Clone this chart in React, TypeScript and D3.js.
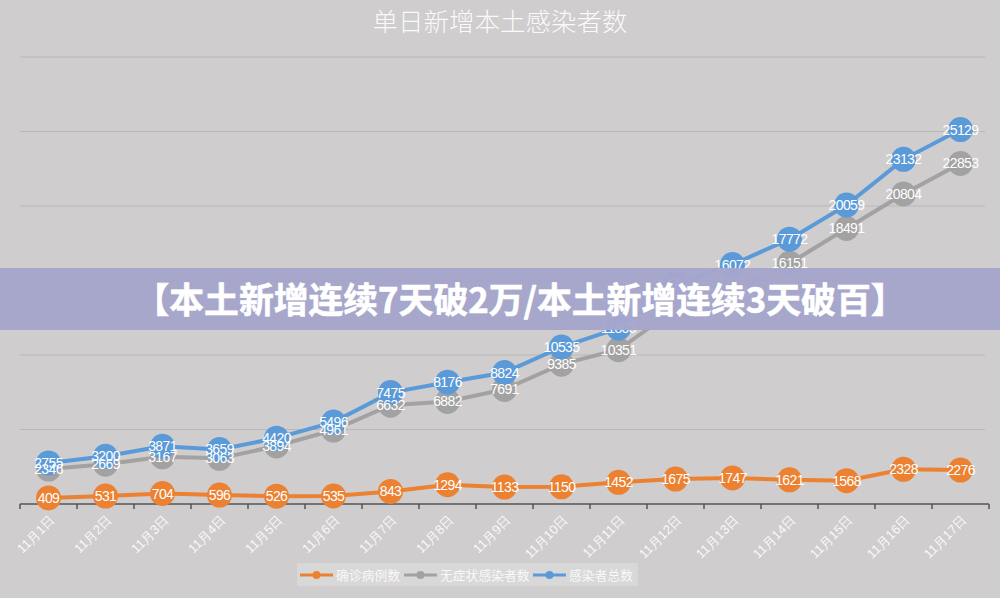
import React, { useEffect } from "react";
import * as d3 from "d3";

// 数据：11月1日 - 11月17日
const dates = [
  "11月1日", "11月2日", "11月3日", "11月4日", "11月5日", "11月6日",
  "11月7日", "11月8日", "11月9日", "11月10日", "11月11日", "11月12日",
  "11月13日", "11月14日", "11月15日", "11月16日", "11月17日",
];
const confirmed = [409, 531, 704, 596, 526, 535, 843, 1294, 1133, 1150, 1452, 1675, 1747, 1621, 1568, 2328, 2276];
const asymptomatic = [2346, 2669, 3167, 3063, 3894, 4961, 6632, 6882, 7691, 9385, 10351, 13086, 14325, 16151, 18491, 20804, 22853];
const total = [2755, 3200, 3871, 3659, 4420, 5496, 7475, 8176, 8824, 10535, 11803, 14761, 16072, 17772, 20059, 23132, 25129];
const yTicks = [0, 5000, 10000, 15000, 20000, 25000, 30000];

const seriesNames = ["确诊病例数", "无症状感染者数", "感染者总数"];
const seriesColors = ["#ec8131", "#a3a2a3", "#5b9ad8"];

const W = 1000;
const H = 598;
const margin = { top: 57, right: 11, bottom: 94, left: 20 };

const App = () => {
  useEffect(() => {
    document.body.style.margin = "0";
  }, []);

  const x = d3
    .scaleBand()
    .domain(dates)
    .range([margin.left, W - margin.right]);
  const y = d3
    .scaleLinear()
    .domain([0, 30000])
    .range([H - margin.bottom, margin.top]);

  const cx = (d: string) => (x(d) || 0) + x.bandwidth() / 2;
  const line = d3
    .line<number>()
    .x((_, i) => cx(dates[i]))
    .y((v) => y(v));

  const series = [confirmed, asymptomatic, total];
  const labelFont = "'Liberation Sans', Arial, sans-serif";
  const cjk = "'Noto Sans CJK SC', sans-serif";
  const axisY = y(0);

  return (
    <svg width={W} height={H} style={{ display: "block" }}>
      <rect width={W} height={H} fill="#cfcdce" />

      {/* 标题 */}
      <text
        x={500}
        y={31}
        textAnchor="middle"
        fill="#ffffff"
        fillOpacity={0.92}
        fontFamily={cjk}
        fontWeight={300}
        fontSize={25.5}
      >
        单日新增本土感染者数
      </text>

      {/* 网格线 */}
      {yTicks.slice(1).map((t) => (
        <line
          key={t}
          x1={margin.left}
          x2={W - margin.right - 4}
          y1={y(t)}
          y2={y(t)}
          stroke="#b9b7b8"
          strokeWidth={1}
        />
      ))}

      {/* X 轴 */}
      <line x1={margin.left} x2={W - margin.right} y1={axisY} y2={axisY} stroke="#555" strokeWidth={1.5} />
      {dates.map((d) => (
        <line key={"t" + d} x1={x(d)} x2={x(d)} y1={axisY} y2={axisY + 5} stroke="#555" strokeWidth={1.5} />
      ))}
      <line x1={W - margin.right} x2={W - margin.right} y1={axisY} y2={axisY + 5} stroke="#555" strokeWidth={1.5} />
      {dates.map((d) => (
        <text
          key={"l" + d}
          transform={`translate(${cx(d) + 7},${axisY + 17}) rotate(-45)`}
          textAnchor="end"
          fill="#ffffff"
          fillOpacity={0.9}
          fontFamily={labelFont}
          fontSize={13}
        >
          {d}
        </text>
      ))}

      {/* 折线 */}
      {series.map((s, k) => (
        <path key={"p" + k} d={line(s) || ""} fill="none" stroke={seriesColors[k]} strokeWidth={4} />
      ))}
      {series.map((s, k) =>
        s.map((v, i) => (
          <circle key={`c${k}-${i}`} cx={cx(dates[i])} cy={y(v)} r={12.5} fill={seriesColors[k]} />
        ))
      )}
      {series.map((s, k) =>
        s.map((v, i) => (
          <text
            key={`v${k}-${i}`}
            x={cx(dates[i])}
            y={y(v) + 5}
            textAnchor="middle"
            fill="#ffffff"
            fontFamily={labelFont}
            fontSize={14}
            letterSpacing={-0.6}
          >
            {v}
          </text>
        ))
      )}

      {/* 图例 */}
      <rect x={297} y={563} width={341} height={23} fill="#d9d8d8" />
      {seriesNames.map((name, k) => {
        const lx = [300, 404, 533][k];
        return (
          <g key={"lg" + k}>
            <line x1={lx} x2={lx + 33} y1={575} y2={575} stroke={seriesColors[k]} strokeWidth={3} />
            <circle cx={lx + 16.5} cy={575} r={4} fill={seriesColors[k]} />
            <text x={lx + 36} y={579.5} fill="#ffffff" fillOpacity={0.85} fontFamily={cjk} fontSize={12.8}>
              {name}
            </text>
          </g>
        );
      })}

      {/* 横幅 */}
      <rect x={0} y={268} width={W} height={62} fill="#a6a6cc" fillOpacity={0.96} />
      <text
        x={520}
        y={312.5}
        textAnchor="middle"
        fill="#ffffff"
        stroke="#ffffff"
        strokeWidth={0.6}
        fontFamily={cjk}
        fontWeight={700}
        fontSize={34.8}
      >
        【本土新增连续7天破2万/本土新增连续3天破百】
      </text>
    </svg>
  );
};

export default App;
